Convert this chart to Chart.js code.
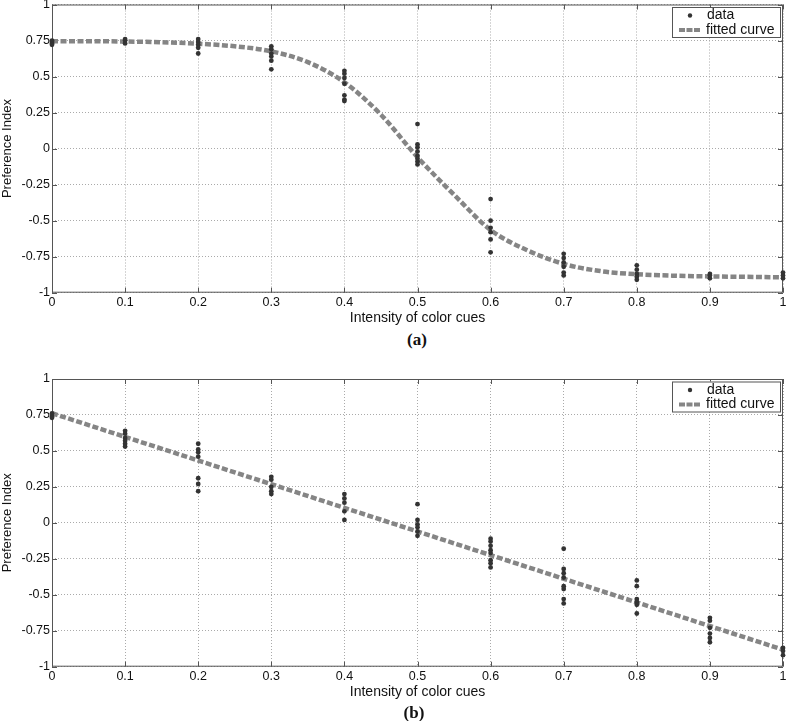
<!DOCTYPE html>
<html>
<head>
<meta charset="utf-8">
<script src="https://cdn.jsdelivr.net/npm/chart.js@4.4.1/dist/chart.umd.min.js"></script>
<style>
  body { margin: 0; background: #fff; width: 787px; height: 721px; position: relative; overflow: hidden; }
  canvas { position: absolute; left: 0; }
  .lbl { position: absolute; font: bold 17px "Liberation Serif", "Times New Roman", serif; color: #111; transform: translate(-50%, -50%); }
</style>
</head>
<body>
<canvas id="chartA" width="787" height="330" style="top:0"></canvas>
<canvas id="chartB" width="787" height="344" style="top:360px"></canvas>
<div class="lbl" style="left:417px;top:340px">(a)</div>
<div class="lbl" style="left:414px;top:713px">(b)</div>
<script>
// --- data ---
const intensity = [0, 0.1, 0.2, 0.3, 0.4, 0.5, 0.6, 0.7, 0.8, 0.9, 1];

// (a) preference index per intensity
const prefA = [
    [0.75, 0.74, 0.73, 0.72],
    [0.76, 0.75, 0.73],
    [0.76, 0.74, 0.72, 0.70, 0.66],
    [0.71, 0.69, 0.66, 0.64, 0.61, 0.55],
    [0.54, 0.52, 0.49, 0.45, 0.37, 0.34, 0.33],
    [0.17, 0.03, 0.01, -0.02, -0.05, -0.07, -0.09, -0.11],
    [-0.35, -0.50, -0.55, -0.58, -0.63, -0.72],
    [-0.73, -0.76, -0.79, -0.82, -0.86, -0.88],
    [-0.81, -0.84, -0.87, -0.89, -0.91],
    [-0.87, -0.88, -0.90],
    [-0.86, -0.88, -0.90]
];

// (b) preference index per intensity
const prefB = [
    [0.76, 0.74, 0.73],
    [0.64, 0.62, 0.59, 0.57, 0.55, 0.53],
    [0.55, 0.51, 0.49, 0.46, 0.31, 0.27, 0.22],
    [0.32, 0.30, 0.25, 0.22, 0.20],
    [0.20, 0.17, 0.14, 0.08, 0.02],
    [0.13, 0.02, -0.01, -0.03, -0.06, -0.09],
    [-0.11, -0.13, -0.16, -0.19, -0.21, -0.26, -0.28, -0.31],
    [-0.18, -0.32, -0.35, -0.38, -0.44, -0.46, -0.53, -0.56],
    [-0.40, -0.44, -0.53, -0.55, -0.57, -0.63],
    [-0.66, -0.68, -0.73, -0.77, -0.80, -0.83],
    [-0.87, -0.89, -0.92]
];

// fitted curves
const curveX = [0, 0.05, 0.1, 0.15, 0.2, 0.25, 0.3, 0.35, 0.4, 0.45, 0.5,
                0.55, 0.6, 0.65, 0.7, 0.75, 0.8, 0.85, 0.9, 0.95, 1];
const fitA = [0.745, 0.745, 0.743, 0.738, 0.728, 0.71, 0.675, 0.60, 0.46, 0.235, -0.06,
              -0.32, -0.565, -0.705, -0.80, -0.85, -0.872, -0.882, -0.887, -0.89, -0.893];
const lineX = [0, 1];
const fitB = [0.762, -0.882];

const xTicks = [0, 0.1, 0.2, 0.3, 0.4, 0.5, 0.6, 0.7, 0.8, 0.9, 1];
const yTicks = [-1, -0.75, -0.5, -0.25, 0, 0.25, 0.5, 0.75, 1];

// --- styling ---
Chart.defaults.font.family = '"Liberation Sans", Arial, sans-serif';
Chart.defaults.color = '#111';

const FRAME = '#555';
const DOT = '#333';
const CURVE = '#858585';

// box round the plot + inward ticks on all four sides (matlab style)
const boxFrame = {
    id: 'boxFrame',
    beforeDatasetsDraw(chart) {
        const { ctx, chartArea: a, scales: { x, y } } = chart;
        ctx.save();
        ctx.strokeStyle = FRAME;
        ctx.lineWidth = 1;
        ctx.strokeRect(a.left + 0.5, a.top + 0.5, a.width - 1, a.height - 1);
        ctx.beginPath();
        xTicks.forEach(v => {
            const px = Math.round(x.getPixelForValue(v)) + 0.5;
            ctx.moveTo(px, a.top); ctx.lineTo(px, a.top + 5);
            ctx.moveTo(px, a.bottom); ctx.lineTo(px, a.bottom - 5);
        });
        yTicks.forEach(v => {
            const py = Math.round(y.getPixelForValue(v)) + 0.5;
            ctx.moveTo(a.left, py); ctx.lineTo(a.left + 5, py);
            ctx.moveTo(a.right, py); ctx.lineTo(a.right - 5, py);
        });
        ctx.stroke();
        ctx.restore();
    }
};

// legend box in the upper right corner
const boxLegend = {
    id: 'boxLegend',
    afterDraw(chart) {
        const { ctx, chartArea: a } = chart;
        const w = 108, h = 30;
        const left = a.right - 3 - w, top = a.top + 2.5;
        ctx.save();
        ctx.fillStyle = '#fff';
        ctx.fillRect(left, top, w, h);
        ctx.strokeStyle = FRAME;
        ctx.lineWidth = 1;
        ctx.strokeRect(left + 0.5, top + 0.5, w, h);

        ctx.fillStyle = DOT;
        ctx.beginPath();
        ctx.arc(left + 18, top + 8.5, 2.2, 0, Math.PI * 2);
        ctx.fill();

        ctx.strokeStyle = CURVE;
        ctx.lineWidth = 4;
        ctx.setLineDash([6, 1.5]);
        ctx.beginPath();
        ctx.moveTo(left + 7, top + 23);
        ctx.lineTo(left + 28, top + 23);
        ctx.stroke();
        ctx.setLineDash([]);

        ctx.fillStyle = '#111';
        ctx.font = '14px "Liberation Sans", Arial, sans-serif';
        ctx.textBaseline = 'middle';
        ctx.fillText('data', left + 35, top + 8.5);
        ctx.fillText('fitted curve', left + 34, top + 23);
        ctx.restore();
    }
};

function makeChart(id, pref, fitX, fitY, padTop) {
    const points = [];
    intensity.forEach((x, i) => pref[i].forEach(y => points.push({ x, y })));
    const curve = fitX.map((x, i) => ({ x, y: fitY[i] }));

    return new Chart(document.getElementById(id), {
        type: 'scatter',
        data: {
            datasets: [{
                label: 'data',
                data: points,
                clip: false,
                pointRadius: 2.4,
                pointHoverRadius: 2.4,
                pointBackgroundColor: DOT,
                pointBorderWidth: 0,
                order: 0
            }, {
                label: 'fitted curve',
                type: 'line',
                data: curve,
                showLine: true,
                pointRadius: 0,
                borderColor: CURVE,
                borderWidth: 4.5,
                borderDash: [6, 2.5],
                borderCapStyle: 'butt',
                cubicInterpolationMode: 'monotone',
                fill: false,
                order: 1
            }]
        },
        options: {
            responsive: false,
            animation: false,
            layout: { padding: { top: padTop, right: 4, left: 0, bottom: 0 } },
            plugins: { legend: { display: false }, tooltip: { enabled: false } },
            scales: {
                x: {
                    type: 'linear',
                    min: 0, max: 1,
                    afterBuildTicks: s => { s.ticks = xTicks.map(v => ({ value: v })); },
                    afterFit: s => { s.height = 37.3; s.paddingLeft = 0; s.paddingRight = 0; },
                    ticks: { padding: 2, font: { size: 12.5 }, callback: v => String(v), maxRotation: 0 },
                    grid: { color: '#aaa', lineWidth: 1, drawTicks: false },
                    border: { display: false, dash: [1, 2] },
                    title: { display: true, text: 'Intensity of color cues', font: { size: 14 }, padding: { top: 0, bottom: 3.4 } }
                },
                y: {
                    min: -1, max: 1,
                    afterBuildTicks: s => { s.ticks = yTicks.map(v => ({ value: v })); },
                    afterFit: s => { s.width = 52; s.paddingTop = 0; s.paddingBottom = 0; },
                    ticks: { padding: 2, font: { size: 12.5 }, callback: v => String(v) },
                    grid: { color: '#aaa', lineWidth: 1, drawTicks: false },
                    border: { display: false, dash: [1, 2] },
                    title: { display: true, text: 'Preference Index', font: { size: 13 }, padding: 0 }
                }
            }
        },
        plugins: [boxFrame, boxLegend]
    });
}

makeChart('chartA', prefA, curveX, fitA, 4.5);
makeChart('chartB', prefB, lineX, fitB, 19);
</script>
</body>
</html>
